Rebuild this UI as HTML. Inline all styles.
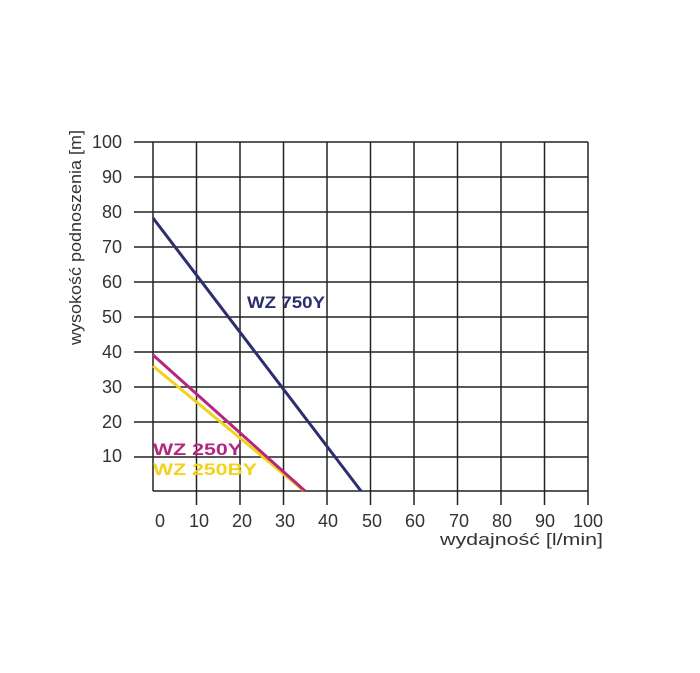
<!DOCTYPE html>
<html><head><meta charset="utf-8"><style>body{margin:0;background:#fff}</style></head><body>
<svg width="700" height="668" xmlns="http://www.w3.org/2000/svg" font-family="Liberation Sans, sans-serif">
<g stroke="#222" stroke-width="1.5">
<line x1="134" y1="142" x2="588" y2="142"/>
<line x1="134" y1="177" x2="588" y2="177"/>
<line x1="134" y1="212" x2="588" y2="212"/>
<line x1="134" y1="247" x2="588" y2="247"/>
<line x1="134" y1="282" x2="588" y2="282"/>
<line x1="134" y1="317" x2="588" y2="317"/>
<line x1="134" y1="352" x2="588" y2="352"/>
<line x1="134" y1="387" x2="588" y2="387"/>
<line x1="134" y1="422" x2="588" y2="422"/>
<line x1="134" y1="457" x2="588" y2="457"/>
<line x1="153" y1="491" x2="588" y2="491"/>
<line x1="153" y1="142" x2="153" y2="491"/>
<line x1="196.5" y1="142" x2="196.5" y2="505"/>
<line x1="240" y1="142" x2="240" y2="505"/>
<line x1="283.5" y1="142" x2="283.5" y2="505"/>
<line x1="327" y1="142" x2="327" y2="505"/>
<line x1="370.5" y1="142" x2="370.5" y2="505"/>
<line x1="414" y1="142" x2="414" y2="505"/>
<line x1="457.5" y1="142" x2="457.5" y2="505"/>
<line x1="501" y1="142" x2="501" y2="505"/>
<line x1="544.5" y1="142" x2="544.5" y2="505"/>
<line x1="588" y1="142" x2="588" y2="505"/>
</g>
<line x1="153" y1="366" x2="304" y2="491" stroke="#f2d21a" stroke-width="3"/>
<line x1="153" y1="355" x2="305" y2="491" stroke="#b5267f" stroke-width="3"/>
<line x1="153" y1="218" x2="361" y2="491" stroke="#2c2e6e" stroke-width="3"/>
<g font-size="18" fill="#333" text-anchor="end">
<text x="122" y="148">100</text><text x="122" y="183">90</text><text x="122" y="218">80</text>
<text x="122" y="253">70</text><text x="122" y="288">60</text><text x="122" y="323">50</text>
<text x="122" y="358">40</text><text x="122" y="393">30</text><text x="122" y="428">20</text>
<text x="122" y="462">10</text>
</g>
<g font-size="18" fill="#333" text-anchor="middle">
<text x="160" y="527">0</text><text x="199" y="527">10</text><text x="242" y="527">20</text>
<text x="285" y="527">30</text><text x="328" y="527">40</text><text x="372" y="527">50</text>
<text x="415" y="527">60</text><text x="459" y="527">70</text><text x="502" y="527">80</text>
<text x="545" y="527">90</text><text x="588" y="527">100</text>
</g>
<text x="440" y="545" font-size="17" fill="#333" textLength="163" lengthAdjust="spacingAndGlyphs">wydajność [l/min]</text>
<text transform="translate(81,345) rotate(-90)" font-size="17" fill="#333" textLength="215" lengthAdjust="spacingAndGlyphs">wysokość podnoszenia [m]</text>
<g font-size="17" font-weight="bold">
<text x="247" y="308" fill="#2c2e6e" textLength="78" lengthAdjust="spacingAndGlyphs">WZ 750Y</text>
<text x="153" y="455" fill="#b5267f" textLength="89" lengthAdjust="spacingAndGlyphs">WZ 250Y</text>
<text x="153" y="475" fill="#f2d21a" textLength="104" lengthAdjust="spacingAndGlyphs">WZ 250BY</text>
</g>
</svg>
</body></html>
